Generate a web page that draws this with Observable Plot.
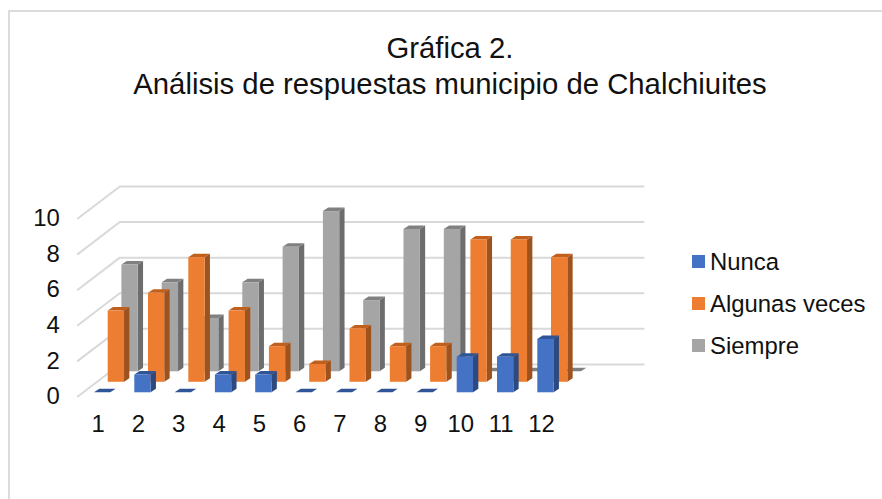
<!DOCTYPE html>
<html lang="es">
<head>
<meta charset="utf-8">
<script src="https://cdn.jsdelivr.net/npm/d3@7"></script>
<script src="https://cdn.jsdelivr.net/npm/@observablehq/plot@0.6"></script>
<style>
  html, body { margin: 0; padding: 0; background: #fff; }
  #chart { position: relative; width: 882px; height: 499px; overflow: hidden; font-family: "Liberation Sans", Arial, sans-serif; color: #111; }
  #chart svg { position: absolute; left: 0; top: 0; }
  #frame { position: absolute; left: 8px; top: 10px; width: 880px; height: 500px; border-left: 2px solid #dcdcdc; border-top: 2px solid #dcdcdc; }
  #title { position: absolute; left: 0; width: 900px; top: 30px; text-align: center; font-size: 29.3px; line-height: 36px; }
  .lg { position: absolute; left: 692px; font-size: 23.9px; line-height: 26px; white-space: nowrap; }
  .lg i { position: absolute; left: 0; top: 6px; width: 13px; height: 13px; }
  .lg span { position: absolute; left: 18px; top: 0; }
</style>
</head>
<body>
<div id="chart">
  <div id="frame"></div>
  <div id="title"></div>
  <div id="legend"></div>
</div>
<script>
const titleLines = ["Gráfica 2.", "Análisis de respuestas municipio de Chalchiuites"];
const categories = [1, 2, 3, 4, 5, 6, 7, 8, 9, 10, 11, 12];
const nunca = [0, 1, 0, 1, 1, 0, 0, 0, 0, 2, 2, 3];
const algunasVeces = [4, 5, 7, 4, 2, 1, 3, 2, 2, 8, 8, 7];
const siempre = [6, 5, 3, 5, 7, 9, 4, 8, 8, 0, 0, 0];
const yTicks = [0, 2, 4, 6, 8, 10];

const series = [
  {name: "Siempre", values: siempre, depth: 2, front: "#a5a5a5", side: "#6d6d6d", top: "#808080"},
  {name: "Algunas veces", values: algunasVeces, depth: 1, front: "#ed7d31", side: "#9e521e", top: "#c0601c"},
  {name: "Nunca", values: nunca, depth: 0, front: "#4472c4", side: "#2c4a80", top: "#2f5597"}
];
const legendOrder = [series[2], series[1], series[0]];
const legendTop = [249, 291, 333];

// Oblique projection, in data units of the x and y scales
const barW = 0.405, stepX = 0.34, stepY = 0.59, baseY = 0.208, sideX = 0.132, sideY = 0.197;
const wallX = 1.042, wallY = 1.8, wallLeft = 0.383, wallRight = 13.378;

const marks = [];

// Floor and back-wall grid
const gridRows = yTicks.flatMap(t => [
  {t, x: wallLeft, y: t},
  {t, x: wallLeft + wallX, y: t + wallY},
  {t, x: wallRight + wallX, y: t + wallY}
]);
marks.push(Plot.line(gridRows, {x: "x", y: "y", z: "t", stroke: "#d9d9d9", strokeWidth: 2, curve: "linear"}));

for (const s of series) {
  const rows = categories.map((c, i) => {
    const x1 = c - barW / 2 + s.depth * stepX;
    const b = baseY + s.depth * stepY;
    return {c, x1, x2: x1 + barW, b, t: b + s.values[i], v: s.values[i]};
  });
  const sideRows = rows.flatMap(r => [
    {c: r.c, x: r.x2, y1: r.b, y2: r.t},
    {c: r.c, x: r.x2 + sideX, y1: r.b + sideY, y2: r.t + sideY}
  ]);
  const topRows = rows.flatMap(r => [
    {c: r.c, y: r.t, x1: r.x1, x2: r.x2},
    {c: r.c, y: r.t + sideY, x1: r.x1 + sideX, x2: r.x2 + sideX}
  ]);
  marks.push(
    Plot.areaY(sideRows, {x: "x", y1: "y1", y2: "y2", z: "c", fill: s.side, curve: "linear"}),
    Plot.areaX(topRows, {y: "y", x1: "x1", x2: "x2", z: "c", fill: s.top, curve: "linear"}),
    Plot.rect(rows.filter(r => r.v > 0), {x1: "x1", x2: "x2", y1: "b", y2: "t", fill: s.front, inset: 0})
  );
}

marks.push(
  Plot.axisX({ticks: categories, tickFormat: d => String(d), tickSize: 0, tickPadding: 19, dx: -4.5, fontSize: 23.9, label: null, anchor: "bottom"}),
  Plot.axisY({ticks: yTicks, tickFormat: d => String(d), tickSize: 0, tickPadding: 18, dy: 0, fontSize: 23.9, label: null, anchor: "left"})
);

const plot = Plot.plot({
  width: 882,
  height: 499,
  marginLeft: 77.3,
  marginRight: 281,
  marginTop: 218,
  marginBottom: 103,
  x: {type: "linear", domain: [wallLeft, wallRight]},
  y: {type: "linear", domain: [0, 10]},
  style: {fontFamily: "'Liberation Sans', Arial, sans-serif", color: "#111", background: "transparent", overflow: "visible"},
  marks
});
document.getElementById("chart").insertBefore(plot, document.getElementById("title"));

document.getElementById("title").innerHTML = titleLines.map(t => `<div>${t}</div>`).join("");
document.getElementById("legend").innerHTML = legendOrder.map((s, i) =>
  `<div class="lg" style="top:${legendTop[i]}px"><i style="background:${s.front}"></i><span>${s.name}</span></div>`).join("");
</script>
</body>
</html>
